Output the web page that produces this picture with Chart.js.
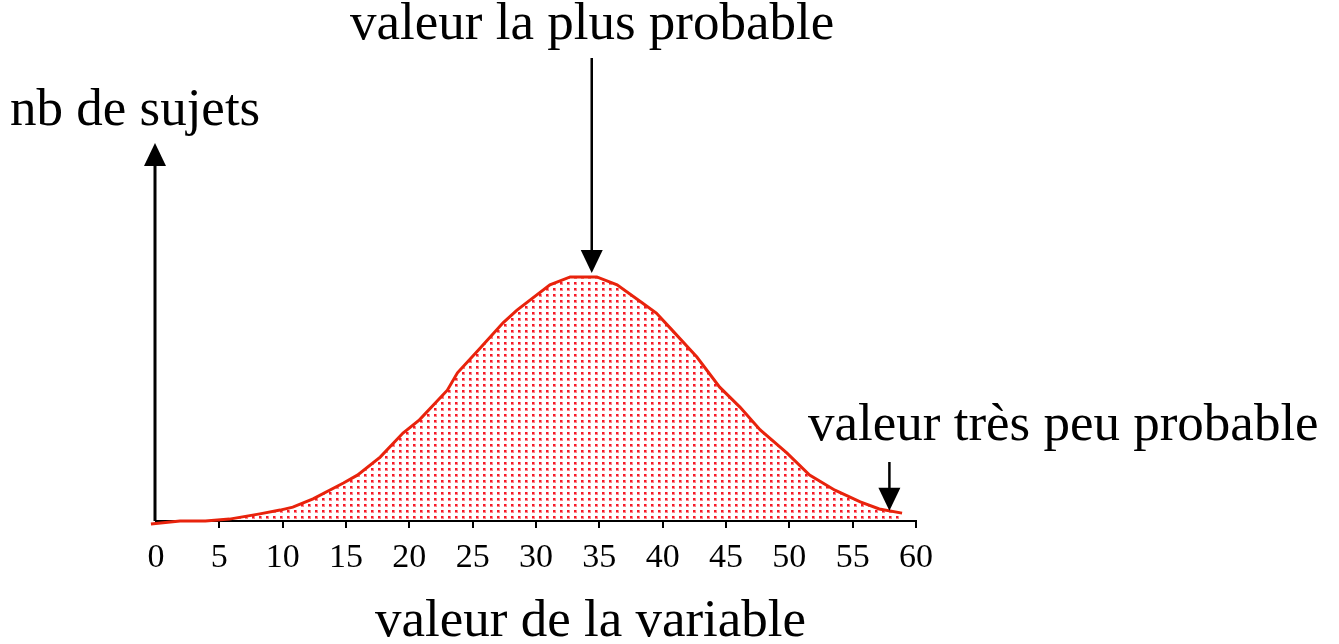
<!DOCTYPE html>
<html>
<head>
<meta charset="utf-8">
<script src="https://cdn.jsdelivr.net/npm/chart.js@4.4.1/dist/chart.umd.min.js"></script>
<style>
    body { margin: 0; background: #fff; }
    #wrap { position: relative; width: 1339px; height: 644px; overflow: hidden; }
    #myChart { position: absolute; left: 0; top: 0; }
    .lbl {
        position: absolute;
        font-family: "Liberation Serif", "Times New Roman", serif;
        font-size: 53px;
        line-height: 53px;
        color: #000;
        white-space: nowrap;
    }
</style>
</head>
<body>
<div id="wrap">
    <canvas id="myChart" width="1339" height="644"></canvas>
    <div class="lbl" style="left:350px; top:-5px;">valeur la plus probable</div>
    <div class="lbl" style="left:10px; top:81px;">nb de sujets</div>
    <div class="lbl" style="left:808px; top:396px;">valeur très peu probable</div>
    <div class="lbl" style="left:375px; top:592px;">valeur de la variable</div>
</div>
<script>
// valeur de la variable / nb de sujets
const valeurs = [-0.4, 1.9, 3.9, 5.8, 8.2, 9.8, 10.8, 12.4, 14.8, 15.9,
    17.7, 19.5, 20.8, 23.0, 23.8, 25.6, 27.4, 28.5, 31.1, 32.7,
    34.8, 36.4, 38.4, 39.5, 40.6, 42.7, 44.5, 46.1, 47.7, 49.8,
    51.6, 53.6, 55.6, 57.1, 58.9];
const sujets = [-0.8, 0, 0, 0.5, 1.9, 2.9, 3.7, 5.9, 10.1, 12.2,
    17.0, 23.4, 26.9, 34.8, 39.4, 46.0, 52.7, 56.1, 62.8, 64.9,
    64.9, 62.8, 58.0, 55.3, 51.3, 43.6, 35.6, 30.3, 24.2, 18.1,
    12.2, 8.2, 5.1, 3.2, 2.1];
const xTicks = [0, 5, 10, 15, 20, 25, 30, 35, 40, 45, 50, 55, 60];

// where the two arrows point
const valeurProbable = [34.4, 64.9];
const valeurPeuProbable = [57.9, 2.7];

function dotPattern() {
    const c = document.createElement('canvas');
    c.width = 7;
    c.height = 6;
    const g = c.getContext('2d');
    g.fillStyle = 'rgba(250, 50, 60, 0.6)';
    g.fillRect(0, 0, 3, 3);
    g.fillStyle = 'rgb(245, 25, 40)';
    g.fillRect(0, 0, 2, 2);
    return g.createPattern(c, 'repeat');
}

function arrowHead(ctx, x, tipY, dir) {
    ctx.beginPath();
    ctx.moveTo(x, tipY);
    ctx.lineTo(x - 11, tipY - dir * 23);
    ctx.lineTo(x + 11, tipY - dir * 23);
    ctx.closePath();
    ctx.fill();
}

const arrowsPlugin = {
    id: 'arrows',
    afterDatasetsDraw(chart) {
        const ctx = chart.ctx;
        const area = chart.chartArea;
        const xs = chart.scales.x;
        const ys = chart.scales.y;
        ctx.save();
        ctx.strokeStyle = '#000';
        ctx.fillStyle = '#000';

        // y axis with arrow
        ctx.lineWidth = 3;
        ctx.beginPath();
        ctx.moveTo(area.left - 1, area.bottom);
        ctx.lineTo(area.left - 1, area.top + 15);
        ctx.stroke();
        arrowHead(ctx, area.left - 1, area.top - 2, -1);

        // valeur la plus probable
        ctx.lineWidth = 2.5;
        let x = xs.getPixelForValue(valeurProbable[0]);
        let tip = ys.getPixelForValue(valeurProbable[1]) - 4;
        ctx.beginPath();
        ctx.moveTo(x, 58);
        ctx.lineTo(x, tip - 20);
        ctx.stroke();
        arrowHead(ctx, x, tip, 1);

        // valeur tres peu probable
        x = xs.getPixelForValue(valeurPeuProbable[0]);
        tip = ys.getPixelForValue(valeurPeuProbable[1]);
        ctx.beginPath();
        ctx.moveTo(x, 462);
        ctx.lineTo(x, tip - 20);
        ctx.stroke();
        arrowHead(ctx, x, tip, 1);

        ctx.restore();
    }
};

const ctx = document.getElementById('myChart').getContext('2d');
new Chart(ctx, {
    type: 'line',
    data: {
        datasets: [{
            data: valeurs.map((v, i) => ({ x: v, y: sujets[i] })),
            borderColor: 'rgb(232, 35, 12)',
            borderWidth: 3,
            backgroundColor: dotPattern(),
            fill: 'origin',
            pointRadius: 0,
            tension: 0,
            clip: false
        }]
    },
    options: {
        responsive: false,
        animation: false,
        devicePixelRatio: 1,
        layout: {
            padding: { left: 156, right: 423, top: 145, bottom: 0 }
        },
        plugins: {
            legend: { display: false },
            tooltip: { enabled: false }
        },
        scales: {
            x: {
                type: 'linear',
                min: 0,
                max: 60,
                afterFit: (scale) => { scale.height = 123; },
                afterBuildTicks: (scale) => { scale.ticks = xTicks.map(v => ({ value: v })); },
                border: { display: true, color: '#000', width: 2 },
                grid: {
                    drawOnChartArea: false,
                    drawTicks: true,
                    tickLength: 7,
                    lineWidth: 2,
                    color: (c) => (c.tick && c.tick.value === 0) ? 'rgba(0,0,0,0)' : '#000'
                },
                ticks: {
                    color: '#000',
                    padding: 10,
                    maxRotation: 0,
                    autoSkip: false,
                    font: { family: 'Liberation Serif', size: 34 }
                }
            },
            y: {
                display: false,
                min: 0,
                max: 100
            }
        }
    },
    plugins: [arrowsPlugin]
});
</script>
</body>
</html>
